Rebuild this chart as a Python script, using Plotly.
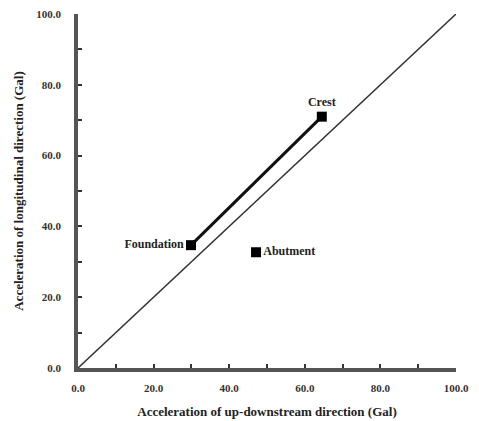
import plotly.graph_objects as go

# Data
pair_names = ["Foundation", "Crest"]
pair_x = [29.9, 64.5]
pair_y = [34.7, 71.0]
abut_name = ["Abutment"]
abut_x = [47.1]
abut_y = [32.7]
ref_line = [0, 100]
tick_vals = [0, 20, 40, 60, 80, 100]
tick_text = ["0.0", "20.0", "40.0", "60.0", "80.0", "100.0"]

serif = "Liberation Serif, Times New Roman, serif"

fig = go.Figure()
fig.add_trace(go.Scatter(x=ref_line, y=ref_line, mode="lines",
                         line=dict(color="#333333", width=1.5), hoverinfo="skip"))
fig.add_trace(go.Scatter(x=pair_x, y=pair_y, mode="lines+markers+text",
                         text=pair_names, textposition=["middle left", "top center"],
                         textfont=dict(family=serif, size=12, color="#222222", weight="bold"),
                         line=dict(color="#111111", width=3),
                         marker=dict(symbol="square", size=10, color="black"),
                         cliponaxis=False))
fig.add_trace(go.Scatter(x=abut_x, y=abut_y, mode="markers+text",
                         text=abut_name, textposition="middle right",
                         textfont=dict(family=serif, size=12, color="#222222", weight="bold"),
                         marker=dict(symbol="square", size=10, color="black"),
                         cliponaxis=False))

axis_common = dict(range=[0, 100], tickmode="array", tickvals=tick_vals, ticktext=tick_text,
                   showgrid=False, zeroline=False, showline=True, linecolor="#555555",
                   linewidth=3.5, ticks="inside", ticklen=4, tickwidth=2, tickcolor="#333333",
                   minor=dict(dtick=10, tick0=0, ticks="inside", ticklen=4, tickwidth=2,
                              tickcolor="#333333"),
                   tickfont=dict(family=serif, size=11, color="#333333", weight="bold"))

fig.update_xaxes(**axis_common, ticklabelstandoff=7,
                 title=dict(text="Acceleration of up-downstream direction (Gal)",
                            font=dict(family=serif, size=13, color="#222222", weight="bold"),
                            standoff=15))
fig.update_yaxes(**axis_common, ticklabelstandoff=11,
                 title=dict(text="Acceleration of longitudinal direction (Gal)",
                            font=dict(family=serif, size=13, color="#222222", weight="bold"),
                            standoff=11))

fig.update_layout(width=479, height=421, showlegend=False,
                  margin=dict(l=78, r=23, t=14, b=53, autoexpand=False),
                  paper_bgcolor="white", plot_bgcolor="white")

fig.write_html("out.html")
